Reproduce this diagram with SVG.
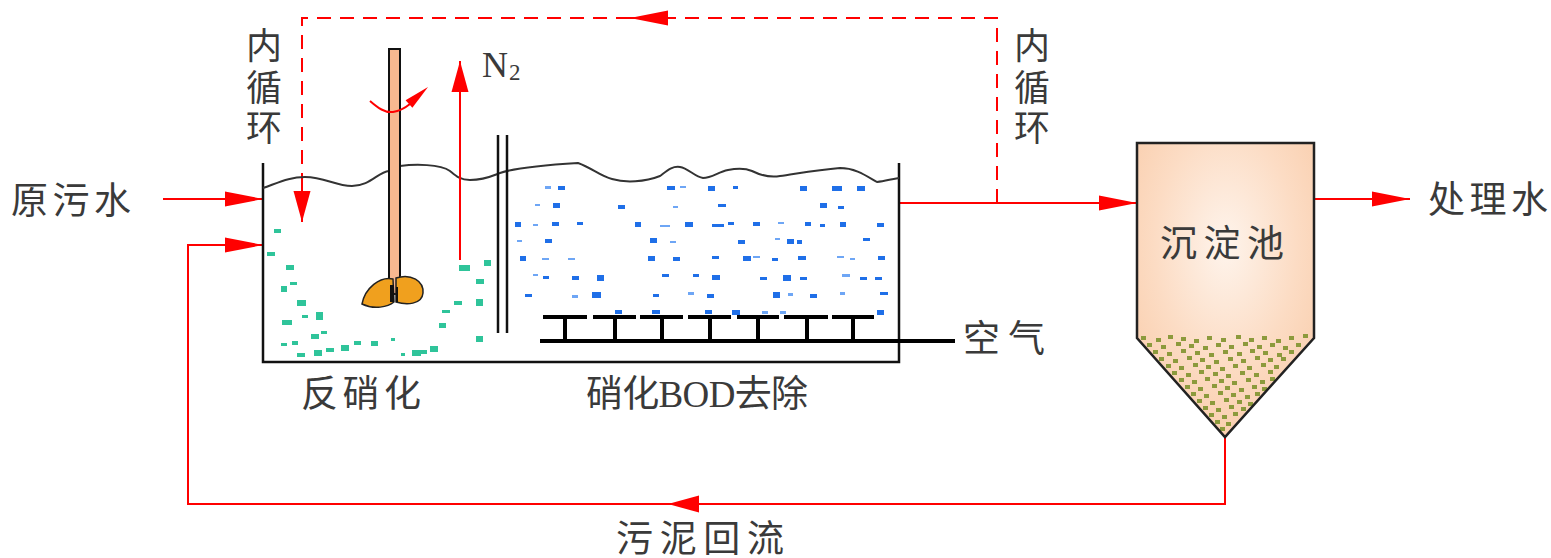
<svg xmlns="http://www.w3.org/2000/svg" width="1551" height="558" viewBox="0 0 1551 558">
  <style>
    .lbl { font-family: "Liberation Serif", "Noto Sans CJK SC", serif; font-size: 37px; fill: #3a3a3a; }
    .vlbl { font-family: "Liberation Serif", "Noto Sans CJK SC", serif; font-size: 36px; fill: #3a3a3a; text-anchor: middle; }
    .wall { fill: none; stroke: #111; stroke-width: 2.5; }
    .surface { fill: none; stroke: #333; stroke-width: 2; }
    .flow { fill: none; stroke: #ff0000; stroke-width: 2; }
    .recycle { fill: none; stroke: #ff0000; stroke-width: 2; stroke-dasharray: 14 9; }
    .pipe { fill: none; stroke: #000; stroke-width: 4; }
    .green { fill: #2fc49a; }
    .blue { fill: #1f6fe8; }
    .blue-l { fill: #6ea6f5; }
    .sludge { fill: #8c9a3c; }
  </style>
  <defs>
    <marker id="arrow" viewBox="0 -10 40 20" refX="38" refY="0" markerWidth="40" markerHeight="20" markerUnits="userSpaceOnUse" orient="auto">
      <path d="M0,-7.5 L38,0 L0,7.5 Z" fill="#ff0000"/>
    </marker>
    <marker id="arrow-s" viewBox="0 -10 32 20" refX="31" refY="0" markerWidth="32" markerHeight="20" markerUnits="userSpaceOnUse" orient="auto">
      <path d="M0,-8.5 L31,0 L0,8.5 Z" fill="#ff0000"/>
    </marker>
    <radialGradient id="clarifierFill" cx="0.5" cy="0.35" r="0.8">
      <stop offset="0" stop-color="#fef4ec"/>
      <stop offset="0.5" stop-color="#fcdcc4"/>
      <stop offset="1" stop-color="#f8c7a2"/>
    </radialGradient>
    <clipPath id="clarifierClip">
      <path d="M1137,143 H1314 V338 L1225,437 L1137,338 Z"/>
    </clipPath>
  </defs>

  <!-- connectors: feed, effluent, sludge return, internal recycle -->
  <g id="connectors">
    <path class="flow" d="M163,199 H263" marker-end="url(#arrow)"/>
    <path class="flow" d="M899,203 H1137" marker-end="url(#arrow)"/>
    <path class="flow" d="M1314,199 H1410" marker-end="url(#arrow)"/>
    <path class="flow" d="M1225,437 V504 H188 V245 H263" marker-end="url(#arrow)"/>
    <path class="flow" d="M700,504 L668,504" marker-end="url(#arrow-s)"/>
    <path class="recycle" d="M997,203 V18 H302 V180"/>
    <path class="flow" d="M668,18 L630,18" marker-end="url(#arrow)"/>
    <path class="flow" d="M302,180 L302,222" marker-end="url(#arrow-s)"/>
  </g>

  <!-- combined anoxic / aerobic tank -->
  <g id="bio-tank">
    <path class="wall" d="M263,163 V362 H899 V163"/>
    <path class="surface" d="M263,188 C280,182 290,177 305,177 C325,177 335,186 352,186 C370,186 378,172 389,171 M400,166 C415,164 440,164 450,171 C456,176 460,180 470,180 C485,180 492,176 500,173 C515,168 545,165 578,163 C592,168 600,176 612,179 C625,183 645,182 660,176 C668,170 672,166 680,167 C688,168 695,177 703,178 C712,178 718,172 728,170 C738,168 745,168 752,171 C760,175 768,178 780,176 C795,174 815,170 840,168 C855,168 865,175 877,182 C885,181 892,179 899,178"/>
    <line x1="498" y1="135" x2="498" y2="333" stroke="#111" stroke-width="2.5"/>
    <line x1="507" y1="135" x2="507" y2="333" stroke="#111" stroke-width="2.5"/>
  </g>

  <!-- anoxic zone biomass -->
  <g id="anoxic-zone">
    <path class="green" d="M274,229h7v4h-7z M267,252h8v4h-8z M286,265h8v5h-8z M290,282h7v3h-7z M281,286h6v6h-6z M297,300h9v6h-9z M316,312h7v8h-7z M302,315h6v3h-6z M282,320h10v5h-10z M321,331h6v3h-6z M311,334h8v5h-8z M281,343h6v3h-6z M292,341h6v4h-6z M297,353h8v4h-8z M314,350h8v6h-8z M326,348h8v4h-8z M341,345h8v6h-8z M354,341h7v4h-7z M371,341h7v5h-7z M391,338h4v3h-4z M401,353h4v3h-4z M412,350h9v6h-9z M420,350h7v4h-7z M430,346h8v6h-8z M439,323h7v5h-7z M442,310h8v3h-8z M454,301h8v4h-8z M459,265h11v6h-11z M476,299h7v7h-7z M476,279h8v5h-8z M484,260h7v6h-7z M476,336h7v6h-7z"/>
  </g>

  <!-- aerobic zone biomass -->
  <g id="aerobic-zone">
    <path class="blue" d="M558,186h7v4h-7z M667,186h8v4h-8z M708,186h7v5h-7z M733,186h5v3h-5z M800,186h7v5h-7z M832,186h10v5h-10z M857,186h8v5h-8z
      M553,203h7v5h-7z M618,205h7v4h-7z M718,204h8v3h-8z M820,203h7v5h-7z M838,206h6v3h-6z
      M515,222h6v5h-6z M552,222h7v4h-7z M577,222h6v3h-6z M635,222h6v5h-6z M685,222h8v5h-8z M712,224h12v3h-12z M728,222h6v3h-6z M753,222h7v4h-7z M805,222h6v4h-6z M820,224h5v3h-5z M840,222h6v5h-6z M877,223h7v4h-7z
      M545,239h7v4h-7z M650,238h7v5h-7z M738,240h7v4h-7z M787,239h7v5h-7z M797,240h5v4h-5z M863,238h7v3h-7z
      M520,256h6v5h-6z M648,256h7v5h-7z M673,257h7v4h-7z M712,256h7v3h-7z M743,256h8v5h-8z M772,258h6v3h-6z M798,256h8v4h-8z M878,256h7v4h-7z
      M543,276h6v3h-6z M572,276h7v4h-7z M597,275h7v6h-7z M662,274h7v3h-7z M693,274h6v3h-6z M712,275h8v5h-8z M760,277h7v3h-7z M783,275h8v6h-8z M800,277h7v3h-7z M860,277h7v3h-7z M875,277h7v3h-7z
      M525,294h7v3h-7z M592,292h9v6h-9z M653,294h6v3h-6z M707,294h7v4h-7z M773,292h7v6h-7z M810,294h7v4h-7z M880,292h8v3h-8z
      M615,310h7v4h-7z M652,310h8v4h-8z M705,310h7v4h-7z M732,310h8v5h-8z M877,310h7v5h-7z"/>
    <path class="blue-l" d="M545,186h6v3h-6z M680,186h6v2h-6z M535,204h5v2h-5z M673,206h5v2h-5z M533,224h5v2h-5z M660,225h10v2h-10z M778,222h6v2h-6z M517,240h5v2h-5z M670,241h6v2h-6z M775,238h5v2h-5z M542,258h7v2h-7z M568,258h7v2h-7z M753,256h7v2h-7z M837,256h7v2h-7z M850,258h5v2h-5z M533,274h5v2h-5z M842,274h8v3h-8z M572,295h6v3h-6z M688,292h6v3h-6z M788,293h5v3h-5z M840,292h5v3h-5z M762,311h6v3h-6z M780,311h6v3h-6z"/>
  </g>

  <!-- aeration grid with diffusers -->
  <g id="aeration">
    <path class="pipe" d="M540,341 H955"/>
    <path class="pipe" d="M543,317 H587 M565,317 V341 M593,317 H636 M615,317 V341 M640,317 H683 M662,317 V341 M688,317 H731 M710,317 V341 M737,317 H779 M758,317 V341 M784,317 H828 M807,317 V341 M832,317 H874 M853,317 V341"/>
  </g>

  <!-- submersible mixer -->
  <g id="mixer">
    <rect x="389" y="49" width="11" height="245" fill="#f8b890" stroke="#111" stroke-width="2"/>
    <path d="M393,279 C380,276 365,288 362,304 C374,310 388,307 394,302 Z" fill="#f0a01e" stroke="#222" stroke-width="1.5"/>
    <path d="M396,278 C411,273 424,281 423,293 C422,305 406,305 396,302 Z" fill="#f0a01e" stroke="#222" stroke-width="1.5"/>
    <rect x="390" y="285" width="4" height="17" fill="#111"/>
    <rect x="396" y="287" width="2" height="15" fill="#111"/>
    <path d="M370,101 C378,108 385,113 393,112 C400,111 405,108 410,104" fill="none" stroke="#ff0000" stroke-width="2"/>
    <path d="M428,87 L405.6,100.2 L412.4,107.8 Z" fill="#ff0000"/>
  </g>

  <!-- nitrogen off-gas -->
  <g id="n2-release">
    <path class="flow" d="M460,260 V61" marker-end="url(#arrow-s)"/>
    <text class="lbl" x="482" y="77" style="font-size:36px">N</text>
    <text class="lbl" x="509" y="80" style="font-size:23px">2</text>
  </g>

  <!-- secondary clarifier -->
  <g id="clarifier">
    <path d="M1137,143 H1314 V338 L1225,437 L1137,338 Z" fill="url(#clarifierFill)"/>
    <g clip-path="url(#clarifierClip)">
      <path class="sludge" d="M1141,336h5v4h-5z M1156,338h5v4h-5z M1168,335h5v4h-5z M1181,337h5v4h-5z M1194,339h5v4h-5z M1207,336h5v4h-5z M1221,338h5v4h-5z M1236,335h5v4h-5z M1249,338h5v4h-5z M1262,336h5v4h-5z M1276,339h5v4h-5z M1289,336h5v4h-5z M1303,334h5v4h-5z
        M1147,343h5v4h-5z M1161,345h5v4h-5z M1176,342h5v4h-5z M1189,344h5v4h-5z M1203,346h5v4h-5z M1216,343h5v4h-5z M1229,345h5v4h-5z M1243,342h5v4h-5z M1257,345h5v4h-5z M1270,343h5v4h-5z M1283,346h5v4h-5z M1296,343h5v4h-5z
        M1153,350h5v4h-5z M1167,352h5v4h-5z M1181,349h5v4h-5z M1195,351h5v4h-5z M1209,353h5v4h-5z M1223,350h5v4h-5z M1237,352h5v4h-5z M1250,349h5v4h-5z M1263,351h5v4h-5z M1277,353h5v4h-5z M1289,350h5v4h-5z
        M1159,357h5v4h-5z M1173,359h5v4h-5z M1187,356h5v4h-5z M1200,358h5v4h-5z M1214,360h5v4h-5z M1228,357h5v4h-5z M1241,359h5v4h-5z M1255,356h5v4h-5z M1268,358h5v4h-5z M1281,357h5v4h-5z
        M1166,364h5v4h-5z M1179,366h5v4h-5z M1193,363h5v4h-5z M1206,365h5v4h-5z M1220,367h5v4h-5z M1233,364h5v4h-5z M1247,366h5v4h-5z M1261,363h5v4h-5z M1274,365h5v4h-5z
        M1172,371h5v4h-5z M1186,373h5v4h-5z M1199,370h5v4h-5z M1213,372h5v4h-5z M1226,374h5v4h-5z M1240,371h5v4h-5z M1254,373h5v4h-5z M1268,370h5v4h-5z
        M1179,378h5v4h-5z M1192,380h5v4h-5z M1205,377h5v4h-5z M1219,379h5v4h-5z M1232,381h5v4h-5z M1246,378h5v4h-5z M1260,380h5v4h-5z M1270,377h5v4h-5z
        M1185,385h5v4h-5z M1198,387h5v4h-5z M1212,384h5v4h-5z M1225,386h5v4h-5z M1239,388h5v4h-5z M1252,385h5v4h-5z M1262,387h5v4h-5z
        M1191,392h5v4h-5z M1204,394h5v4h-5z M1218,391h5v4h-5z M1231,393h5v4h-5z M1245,395h5v4h-5z M1255,392h5v4h-5z
        M1197,399h5v4h-5z M1210,401h5v4h-5z M1224,398h5v4h-5z M1237,400h5v4h-5z M1248,402h5v4h-5z
        M1203,406h5v4h-5z M1216,408h5v4h-5z M1229,405h5v4h-5z M1241,407h5v4h-5z
        M1209,413h5v4h-5z M1222,415h5v4h-5z M1233,412h5v4h-5z
        M1215,420h5v4h-5z M1226,422h5v4h-5z
        M1220,427h5v4h-5z"/>
    </g>
    <path d="M1137,143 H1314 V338 L1225,437 L1137,338 Z" fill="none" stroke="#222" stroke-width="2.5"/>
    <text class="lbl" x="1160" y="257" textLength="124" lengthAdjust="spacing">沉淀池</text>
  </g>

  <!-- process labels -->
  <g id="labels">
    <text class="lbl" x="11" y="214" textLength="120" lengthAdjust="spacing">原污水</text>
    <text class="lbl" x="1428" y="213" textLength="120" lengthAdjust="spacing">处理水</text>
    <text class="lbl" x="963" y="352" textLength="82" lengthAdjust="spacing">空气</text>
    <text class="lbl" x="301" y="407" textLength="120" lengthAdjust="spacing">反硝化</text>
    <text class="lbl" x="586" y="407" textLength="222" lengthAdjust="spacing">硝化BOD去除</text>
    <text class="lbl" x="616" y="552" textLength="168" lengthAdjust="spacing">污泥回流</text>
    <text class="vlbl" x="264" y="59">内</text>
    <text class="vlbl" x="264" y="101">循</text>
    <text class="vlbl" x="264" y="141">环</text>
    <text class="vlbl" x="1032" y="59">内</text>
    <text class="vlbl" x="1032" y="101">循</text>
    <text class="vlbl" x="1032" y="141">环</text>
  </g>
</svg>
